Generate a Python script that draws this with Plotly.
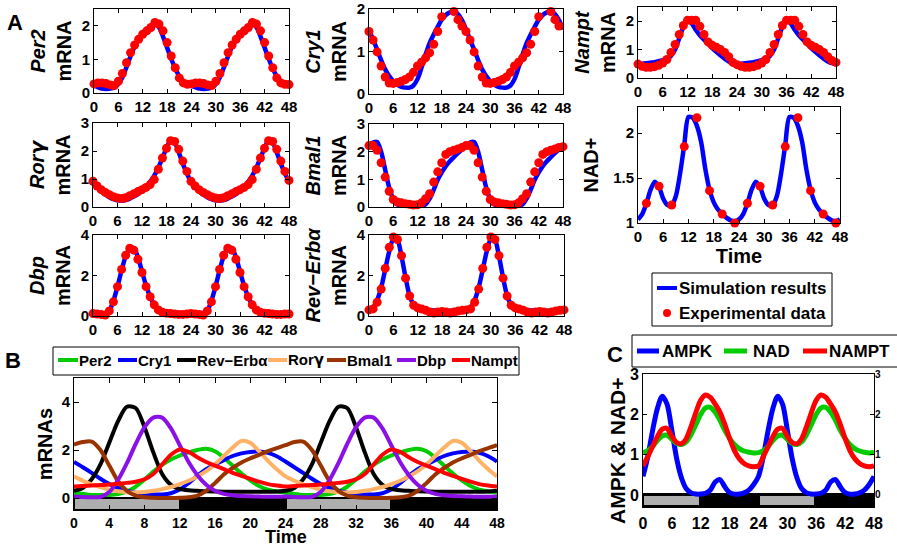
import plotly.graph_objects as go

W, H = 897, 548
FONT = "Liberation Sans"

# ---------------- data ----------------
T = list(range(49))

per2_sim = [0.22,0.17,0.13,0.12,0.13,0.17,0.27,0.47,0.77,1.10,1.38,1.60,1.77,1.90,2.00,2.05,1.95,1.68,1.35,1.02,0.73,0.50,0.35,0.27,0.22,
            0.17,0.13,0.12,0.13,0.17,0.27,0.47,0.77,1.10,1.38,1.60,1.77,1.90,2.00,2.05,1.95,1.68,1.35,1.02,0.73,0.50,0.35,0.27,0.22]
per2_exp = [0.27,0.30,0.30,0.28,0.24,0.22,0.35,0.58,0.90,1.20,1.43,1.60,1.75,1.85,1.95,2.10,2.05,1.85,1.50,1.10,0.75,0.45,0.30,0.26,
            0.27,0.30,0.30,0.28,0.24,0.22,0.35,0.58,0.90,1.20,1.43,1.60,1.75,1.85,1.95,2.10,2.05,1.85,1.50,1.10,0.75,0.45,0.30,0.26,0.25]

cry1_sim = [1.50,1.28,1.05,0.80,0.58,0.42,0.30,0.22,0.17,0.15,0.15,0.20,0.35,0.62,0.93,1.20,1.40,1.58,1.75,1.86,1.92,1.94,1.88,1.74,1.52,
            1.28,1.05,0.80,0.58,0.42,0.30,0.22,0.17,0.15,0.15,0.20,0.35,0.62,0.93,1.20,1.40,1.58,1.75,1.86,1.92,1.94,1.88,1.74,1.52]
cry1_t = [0,1,2,3,4,5,6,7,8,9,10,11,12,13,14,15,16,17,18,21,22,23,
          24,25,26,27,28,29,30,31,32,33,34,35,36,37,38,39,40,41,42,45,46,47]
cry1_exp = [1.47,1.27,0.99,0.66,0.40,0.26,0.25,0.27,0.30,0.34,0.40,0.51,0.66,0.75,0.85,0.97,1.17,1.47,1.82,1.94,1.75,1.60,
            1.47,1.27,0.99,0.66,0.40,0.26,0.25,0.27,0.30,0.34,0.40,0.51,0.66,0.75,0.85,0.97,1.17,1.47,1.82,1.94,1.75,1.60]

nampt_sim = [0.48,0.50,0.52,0.54,0.56,0.59,0.63,0.68,0.78,1.00,1.40,1.80,2.02,1.92,1.70,1.50,1.35,1.20,1.05,0.92,0.80,0.68,0.58,0.52,0.48,
             0.50,0.52,0.54,0.56,0.59,0.63,0.68,0.78,1.00,1.40,1.80,2.02,1.92,1.70,1.50,1.35,1.20,1.05,0.92,0.80,0.68,0.58,0.52,0.48]
nampt_exp = [0.49,0.41,0.38,0.38,0.40,0.45,0.53,0.65,0.90,1.18,1.53,1.85,2.03,2.03,2.03,1.82,1.53,1.27,1.15,1.08,1.00,0.90,0.75,0.55,
             0.47,0.41,0.38,0.38,0.40,0.45,0.53,0.65,0.90,1.18,1.53,1.85,2.03,2.03,2.03,1.82,1.53,1.27,1.15,1.08,1.00,0.90,0.75,0.62,0.55]

ror_sim = [0.90,0.72,0.57,0.45,0.35,0.28,0.24,0.23,0.25,0.30,0.37,0.46,0.58,0.72,0.90,1.12,1.40,1.75,2.10,2.38,2.30,1.95,1.55,1.20,0.90,
           0.72,0.57,0.45,0.35,0.28,0.24,0.23,0.25,0.30,0.37,0.46,0.58,0.72,0.90,1.12,1.40,1.75,2.10,2.38,2.30,1.95,1.55,1.20,0.90]
ror_exp = [0.92,0.75,0.62,0.52,0.44,0.37,0.32,0.30,0.33,0.40,0.47,0.55,0.62,0.70,0.80,0.98,1.35,1.75,2.10,2.37,2.34,2.06,1.64,1.27,
           0.92,0.75,0.62,0.52,0.44,0.37,0.32,0.30,0.33,0.40,0.47,0.55,0.62,0.70,0.80,0.98,1.35,1.75,2.10,2.37,2.34,2.06,1.64,1.27,0.95]

bmal1_sim = [2.22,2.33,2.35,2.00,1.35,0.70,0.30,0.10,0.03,0.01,0.00,0.00,0.01,0.03,0.10,0.30,0.62,0.98,1.25,1.48,1.65,1.80,1.95,2.08,2.20,
             2.33,2.35,2.00,1.35,0.70,0.30,0.10,0.03,0.01,0.00,0.00,0.01,0.03,0.10,0.30,0.62,0.98,1.25,1.48,1.65,1.80,1.95,2.08,2.20]
bmal1_exp = [2.22,2.22,2.05,1.60,1.08,0.57,0.27,0.18,0.15,0.12,0.10,0.07,0.08,0.15,0.30,0.48,0.90,1.27,1.60,1.90,2.00,2.05,2.10,2.15,
             2.22,2.22,2.05,1.60,1.08,0.57,0.27,0.18,0.15,0.12,0.10,0.07,0.08,0.15,0.30,0.48,0.90,1.27,1.60,1.90,2.00,2.05,2.10,2.15,2.18]

dbp_sim = [0.06,0.04,0.03,0.05,0.25,0.75,1.45,2.25,2.95,3.35,3.35,2.90,2.20,1.50,0.95,0.55,0.30,0.17,0.11,0.08,0.07,0.06,0.05,0.05,0.06,
           0.04,0.03,0.05,0.25,0.75,1.45,2.25,2.95,3.35,3.35,2.90,2.20,1.50,0.95,0.55,0.30,0.17,0.11,0.08,0.07,0.06,0.05,0.05,0.06]
dbp_exp = [0.12,0.10,0.08,0.05,0.25,0.70,1.45,2.30,3.00,3.35,3.25,2.80,2.15,1.45,0.95,0.55,0.30,0.18,0.14,0.12,0.10,0.08,0.08,0.10,
           0.12,0.10,0.08,0.05,0.25,0.70,1.45,2.30,3.00,3.35,3.25,2.80,2.15,1.45,0.95,0.55,0.30,0.18,0.14,0.12,0.10,0.08,0.08,0.10,0.10]

rev_sim = [0.30,0.42,0.78,1.40,2.30,3.20,3.80,3.75,2.95,1.90,1.00,0.55,0.38,0.32,0.30,0.28,0.27,0.26,0.26,0.26,0.26,0.26,0.26,0.27,0.30,
           0.42,0.78,1.40,2.30,3.20,3.80,3.75,2.95,1.90,1.00,0.55,0.38,0.32,0.30,0.28,0.27,0.26,0.26,0.26,0.26,0.26,0.26,0.27,0.30]
rev_exp = [0.30,0.35,0.68,1.33,2.35,3.39,3.90,3.78,2.98,1.87,0.99,0.53,0.40,0.34,0.28,0.20,0.15,0.20,0.22,0.20,0.15,0.20,0.25,0.28,
           0.30,0.35,0.68,1.33,2.35,3.39,3.90,3.78,2.98,1.87,0.99,0.53,0.40,0.34,0.28,0.20,0.15,0.20,0.22,0.20,0.15,0.20,0.25,0.28,0.30]

nad_sim = [1.04,1.10,1.22,1.37,1.46,1.40,1.27,1.20,1.20,1.30,1.55,1.87,2.18,2.17,2.08,1.90,1.60,1.37,1.23,1.15,1.10,1.06,1.03,1.02,1.04,
           1.10,1.22,1.37,1.46,1.40,1.27,1.20,1.20,1.30,1.55,1.87,2.18,2.17,2.08,1.90,1.60,1.37,1.23,1.15,1.10,1.06,1.03,1.02,1.04]
nad_t = [2,5,8,11,14,17,20,23,26,29,32,35,38,41,44,47]
nad_exp = [1.22,1.41,1.20,1.85,2.17,1.36,1.10,1.00,1.22,1.41,1.20,1.85,2.17,1.36,1.10,1.00]

# panel C
ampk_c = [0.46,0.95,1.60,2.15,2.45,2.25,1.60,0.90,0.42,0.15,0.05,0.02,0.02,0.04,0.12,0.32,0.38,0.20,0.06,0.02,0.02,0.05,0.12,0.26,0.46,
          0.95,1.60,2.15,2.45,2.25,1.60,0.90,0.42,0.15,0.05,0.02,0.02,0.04,0.12,0.32,0.38,0.20,0.06,0.02,0.02,0.05,0.12,0.26,0.46]
nad_c = [1.05,1.10,1.20,1.35,1.46,1.48,1.38,1.28,1.25,1.32,1.50,1.75,2.00,2.16,2.17,2.05,1.85,1.60,1.40,1.25,1.15,1.09,1.06,1.04,1.05,
         1.10,1.20,1.35,1.46,1.48,1.38,1.28,1.25,1.32,1.50,1.75,2.00,2.16,2.17,2.05,1.85,1.60,1.40,1.25,1.15,1.09,1.06,1.04,1.05]
nampt_c = [0.72,0.95,1.20,1.45,1.63,1.65,1.45,1.30,1.27,1.40,1.70,2.05,2.35,2.48,2.42,2.25,2.05,1.75,1.40,1.10,0.90,0.78,0.72,0.70,0.72,
           0.95,1.20,1.45,1.63,1.65,1.45,1.30,1.27,1.40,1.70,2.05,2.35,2.48,2.42,2.25,2.05,1.75,1.40,1.10,0.90,0.78,0.72,0.70,0.72]

# light / dark bars
ld_start = [0, 12, 24, 36]
ld_end = [12, 24, 36, 48]
ld_color = ["#AEAEAE", "#000000", "#AEAEAE", "#000000"]

GAMMA = '<span style="font-family:DejaVu Sans">\u03b3</span>'

# legend labels
b_names = ["Per2", "Cry1", "Rev\u2212Erb\u03b1", "Ror" + GAMMA, "Bmal1", "Dbp", "Nampt"]
b_colors = ["#00CC00", "#0000FF", "#000000", "#FFB266", "#993300", "#8A10E6", "#FF0000"]
c_names = ["AMPK", "NAD", "NAMPT"]
c_colors = ["#0000FF", "#00CC00", "#FF0000"]

a_x_ticks = [0, 6, 12, 18, 24, 30, 36, 42, 48]
b_x_ticks = [0, 4, 8, 12, 16, 20, 24, 28, 32, 36, 40, 44, 48]

# ---------------- figure ----------------
fig = go.Figure()

panels_a = [
    # idx, sim, exp_t, exp_v, ylabel, rect(px), yrange, yticks
    (1, per2_sim, T, per2_exp, "<i>Per2</i><br>mRNA", (94, 289, 9, 93), [0, 2.5], [0, 1, 2]),
    (2, cry1_sim, cry1_t, cry1_exp, "<i>Cry1</i><br>mRNA", (369, 563, 9, 94), [0, 2], [0, 1, 2]),
    (3, nampt_sim, T, nampt_exp, "<i>Nampt</i><br>mRNA", (638, 836, 7, 78), [0, 2.5], [0, 1, 2]),
    (4, ror_sim, T, ror_exp, "<i>Ror" + GAMMA + "</i><br>mRNA", (93, 289, 123, 207), [0, 3], [0, 1, 2, 3]),
    (5, bmal1_sim, T, bmal1_exp, "<i>Bmal1</i><br>mRNA", (369, 563, 124, 207), [0, 3], [0, 1, 2, 3]),
    (6, nad_sim, nad_t, nad_exp, "NAD+", (638, 840, 107, 223), [1, 2.29], [1, 1.5, 2]),
    (7, dbp_sim, T, dbp_exp, "<i>Dbp</i><br>mRNA", (93, 289, 235, 316), [0, 4], [0, 2, 4]),
    (8, rev_sim, T, rev_exp, "<i>Rev\u2212Erb\u03b1</i><br>mRNA", (369, 564, 235, 316), [0, 4], [0, 2, 4]),
]

def tfont(size=15):
    return dict(family=FONT, size=size, color="black", weight="bold")

def axkeys(i):
    return ("xaxis" if i == 1 else f"xaxis{i}", "yaxis" if i == 1 else f"yaxis{i}",
            "x" if i == 1 else f"x{i}", "y" if i == 1 else f"y{i}")

def fmt(v):
    return str(int(v)) if float(v).is_integer() else str(v)

layout_axes = {}
common = dict(showline=True, linecolor="black", linewidth=1, mirror="ticks", ticks="inside",
              ticklen=4, tickcolor="black", showgrid=False, zeroline=False, tickfont=tfont(15),
              automargin=False)

for idx, sim, et, ev, ylab, (x0, x1, y0, y1), yr, yt in panels_a:
    xk, yk, xr, yrf = axkeys(idx)
    fig.add_trace(go.Scatter(x=T, y=sim, mode="lines", xaxis=xr, yaxis=yrf,
                             line=dict(color="#0000FF", width=4.5, shape="spline", smoothing=0.8),
                             showlegend=False, hoverinfo="skip"))
    fig.add_trace(go.Scatter(x=et, y=ev, mode="markers", xaxis=xr, yaxis=yrf, cliponaxis=False,
                             marker=dict(color="#FF0000", size=9, line=dict(width=0)),
                             showlegend=False, hoverinfo="skip"))
    xa = dict(common, domain=[x0 / W, x1 / W], anchor=yrf, range=[0, 48],
              tickvals=a_x_ticks, ticktext=[fmt(v) for v in a_x_ticks])
    ya = dict(common, domain=[1 - y1 / H, 1 - y0 / H], anchor=xr, range=yr,
              tickvals=yt, ticktext=[fmt(v) for v in yt],
              title=dict(text=ylab, font=dict(family=FONT, size=20, color="black", weight="bold"), standoff=4))
    if idx == 6:
        xa["title"] = dict(text="Time", font=dict(family=FONT, size=20, color="black", weight="bold"), standoff=0)
        ya["title"]["standoff"] = 9
    layout_axes[xk] = xa
    layout_axes[yk] = ya

# ---- panel B ----
b_series = [per2_sim, cry1_sim, rev_sim, ror_sim, bmal1_sim, dbp_sim, nampt_sim]
for vals, col in zip(b_series, b_colors):
    fig.add_trace(go.Scatter(x=T, y=vals, mode="lines", xaxis="x9", yaxis="y9",
                             line=dict(color=col, width=4, shape="spline", smoothing=0.8),
                             showlegend=False, hoverinfo="skip"))
fig.add_trace(go.Bar(x=[(s + e) / 2 for s, e in zip(ld_start, ld_end)],
                     y=[0.5] * 4, base=-0.5, width=[e - s for s, e in zip(ld_start, ld_end)],
                     marker=dict(color=ld_color, line=dict(color="black", width=2)),
                     xaxis="x9", yaxis="y9", showlegend=False, hoverinfo="skip"))
x0, x1, y0, y1 = 74, 497, 378, 510
layout_axes["xaxis9"] = dict(common, domain=[x0 / W, x1 / W], anchor="y9", range=[0, 48],
                             tickvals=b_x_ticks, ticktext=[str(v) for v in b_x_ticks], ticklen=5,
                             ticklabelstandoff=0, tickfont=tfont(14))
layout_axes["yaxis9"] = dict(common, domain=[1 - y1 / H, 1 - y0 / H], anchor="x9", range=[-0.5, 5],
                             tickvals=[0, 2, 4], ticktext=["0", "2", "4"], ticklen=5,
                             title=dict(text="mRNAs", font=dict(family=FONT, size=20, color="black", weight="bold"), standoff=3))

# ---- panel C ----
fig.add_trace(go.Scatter(x=T, y=ampk_c, mode="lines", xaxis="x10", yaxis="y10",
                         line=dict(color=c_colors[0], width=5, shape="spline", smoothing=0.8),
                         showlegend=False, hoverinfo="skip"))
fig.add_trace(go.Scatter(x=T, y=nampt_c, mode="lines", xaxis="x10", yaxis="y11",
                         line=dict(color=c_colors[2], width=5, shape="spline", smoothing=0.8),
                         showlegend=False, hoverinfo="skip"))
fig.add_trace(go.Scatter(x=T, y=nad_c, mode="lines", xaxis="x10", yaxis="y10",
                         line=dict(color=c_colors[1], width=5, shape="spline", smoothing=0.8),
                         showlegend=False, hoverinfo="skip"))
fig.add_trace(go.Bar(x=[(s + e) / 2 for s, e in zip(ld_start, ld_end)],
                     y=[0.3] * 4, base=-0.3, width=[e - s for s, e in zip(ld_start, ld_end)],
                     marker=dict(color=ld_color, line=dict(color="black", width=3)),
                     xaxis="x10", yaxis="y10", showlegend=False, hoverinfo="skip"))
x0, x1, y0, y1 = 643, 874, 374, 507
layout_axes["xaxis10"] = dict(common, domain=[x0 / W, x1 / W], anchor="y10", range=[0, 48],
                              tickvals=a_x_ticks, ticktext=[str(v) for v in a_x_ticks],
                              tickfont=tfont(16), ticklen=0, ticklabelstandoff=2)
layout_axes["yaxis10"] = dict(common, domain=[1 - y1 / H, 1 - y0 / H], anchor="x10", range=[-0.3, 3],
                              tickvals=[0, 1, 2, 3], ticktext=["0", "1", "2", "3"], mirror=True,
                              tickfont=tfont(16))
layout_axes["yaxis11"] = dict(overlaying="y10", side="right", anchor="x10", range=[-0.3, 3],
                              tickvals=[0, 1, 2, 3], ticktext=["0", "1", "2", "3"], ticks="inside",
                              ticklen=4, tickcolor="black", showgrid=False, zeroline=False, showline=False,
                              tickfont=tfont(10), automargin=False)

# ---------------- legends / labels (drawn in paper space) ----------------
def px(x):
    return x / W

def py(y):
    return 1 - y / H

shapes = []
annotations = []

def box(x0, y0, x1, y1):
    shapes.append(dict(type="rect", xref="paper", yref="paper", x0=px(x0), x1=px(x1), y0=py(y1), y1=py(y0),
                       line=dict(color="black", width=1), fillcolor="white", layer="above"))

def seg(x0, x1, y, col, w):
    shapes.append(dict(type="line", xref="paper", yref="paper", x0=px(x0), x1=px(x1), y0=py(y), y1=py(y),
                       line=dict(color=col, width=w), layer="above"))

def text(x, y, s, size, anchor="left", angle=0, yanchor="middle"):
    annotations.append(dict(x=px(x), y=py(y), xref="paper", yref="paper", text=s, showarrow=False,
                            xanchor=anchor, yanchor=yanchor, textangle=angle, borderpad=0,
                            font=dict(family=FONT, size=size, color="black", weight="bold")))

# legend A
box(652, 273, 832, 326)
seg(657, 677, 288, "#0000FF", 4)
text(678, 288, "Simulation results", 17)
shapes.append(dict(type="circle", xref="paper", yref="paper", x0=px(663), x1=px(671), y0=py(317), y1=py(309),
                   fillcolor="#FF0000", line=dict(width=0), layer="above"))
text(678, 313, "Experimental data", 17)

# legend B
box(53, 347, 519, 375)
b_line_x = [(58, 78), (118, 137), (177, 196), (268, 287), (327, 346), (397, 416), (452, 470)]
for (a, b), nm, col in zip(b_line_x, b_names, b_colors):
    seg(a, b, 360, col, 4)
    text(b, 360, nm, 15)

# panel B x-axis title
text(286, 548, "Time", 18, "center", yanchor="bottom")

# legend C
box(632, 335, 900, 367)
c_line_x = [(637, 659), (724, 747), (803, 827)]
c_text_x = [661, 752, 828]
for (a, b), tx, nm, col in zip(c_line_x, c_text_x, c_names, c_colors):
    seg(a, b, 351, col, 5)
    text(tx, 351, nm, 17)

# panel C y-axis label
text(617, 451, "AMPK &amp; NAD+", 21, "center", -90)

# panel letters
text(15, 22, "A", 22, "center")
text(13, 360, "B", 22, "center")
text(615, 354, "C", 22, "center")

fig.update_layout(
    width=W, height=H, margin=dict(l=0, r=0, t=0, b=0, autoexpand=False),
    paper_bgcolor="white", plot_bgcolor="white",
    font=dict(family=FONT, size=15, color="black", weight="bold"),
    showlegend=False, bargap=0,
    shapes=shapes, annotations=annotations,
    **layout_axes,
)

fig.write_html("out.html")
